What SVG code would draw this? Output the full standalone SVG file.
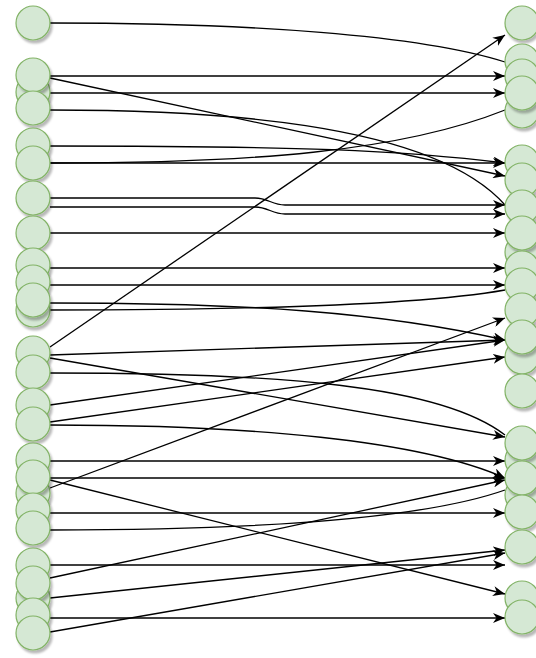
<svg xmlns="http://www.w3.org/2000/svg" width="536" height="658" viewBox="0 0 536 658">
<defs>
<marker id="arr" viewBox="0 0 12 10" refX="12" refY="5" markerWidth="12" markerHeight="10" markerUnits="userSpaceOnUse" orient="auto">
<path d="M0,0 L12,5 L0,10 L3.5,5 Z" fill="#000"/>
</marker>
<filter id="sh" x="-30%" y="-30%" width="170%" height="170%">
<feDropShadow dx="2" dy="3" stdDeviation="1.2" flood-color="#000" flood-opacity="0.28"/>
</filter>
</defs>
<style>
.e{fill:none;stroke:#000;stroke-width:1.3}
.a{marker-end:url(#arr)}
.n{fill:#d5e8d4;stroke:#82b366;stroke-width:1.2;filter:url(#sh)}
</style>
<rect width="536" height="658" fill="#fff"/>
<g id="connectors">
<path class="e" d="M50,23 C250,23 420,35 505,62"/>
<path class="e a" d="M50,76 H505"/>
<path class="e a" d="M50,93 H505"/>
<path class="e a" d="M50,78 L505,176"/>
<path class="e" d="M50,110 C200,110 430,120 505,205"/>
<path class="e a" d="M50,146 C300,146 400,150 505,163"/>
<path class="e a" d="M50,163 H505"/>
<path class="e" d="M50,163 C250,163 400,152 505,110"/>
<path class="e a" d="M50,198 H255 C268,198 272,205 285,205 H505"/>
<path class="e a" d="M50,207 H255 C268,207 272,214 285,214 H505"/>
<path class="e a" d="M50,233 H505"/>
<path class="e a" d="M50,268 H505"/>
<path class="e a" d="M50,285 H505"/>
<path class="e a" d="M50,303 C250,303 380,312 505,340"/>
<path class="e" d="M50,310 C250,310 420,305 505,290"/>
<path class="e a" d="M50,347 L505,35"/>
<path class="e a" d="M50,355 L505,340"/>
<path class="e a" d="M50,358 L505,437"/>
<path class="e" d="M50,373 C280,373 440,385 505,435"/>
<path class="e a" d="M50,405 L505,340"/>
<path class="e a" d="M50,422 L505,357"/>
<path class="e a" d="M50,425 C250,425 420,440 505,478"/>
<path class="e a" d="M50,488 L505,318"/>
<path class="e a" d="M50,461 H505"/>
<path class="e a" d="M50,478 H505"/>
<path class="e a" d="M50,480 L505,594"/>
<path class="e a" d="M50,513 H505"/>
<path class="e" d="M50,530 C250,530 420,520 505,490"/>
<path class="e a" d="M50,565 H505"/>
<path class="e a" d="M50,578 L505,480"/>
<path class="e a" d="M50,598 L505,550"/>
<path class="e a" d="M50,618 H505"/>
<path class="e a" d="M50,632 L505,553"/>
</g>
<g id="left-nodes">
<g id="l1"><circle class="n" cx="33" cy="23" r="17"/></g>
<g id="l3"><circle class="n" cx="33" cy="92" r="17"/></g>
<g id="l2"><circle class="n" cx="33" cy="75" r="17"/></g>
<g id="l4"><circle class="n" cx="33" cy="108" r="17"/></g>
<g id="l5"><circle class="n" cx="33" cy="145" r="17"/></g>
<g id="l6"><circle class="n" cx="33" cy="163" r="17"/></g>
<g id="l7"><circle class="n" cx="33" cy="198" r="17"/></g>
<g id="l8"><circle class="n" cx="33" cy="233" r="17"/></g>
<g id="l9"><circle class="n" cx="33" cy="265" r="17"/></g>
<g id="l10"><circle class="n" cx="33" cy="282" r="17"/></g>
<g id="l12"><circle class="n" cx="33" cy="310" r="17"/></g>
<g id="l11"><circle class="n" cx="33" cy="300" r="17"/></g>
<g id="l13"><circle class="n" cx="33" cy="353" r="17"/></g>
<g id="l14"><circle class="n" cx="33" cy="372" r="17"/></g>
<g id="l15"><circle class="n" cx="33" cy="405" r="17"/></g>
<g id="l16"><circle class="n" cx="33" cy="424" r="17"/></g>
<g id="l17"><circle class="n" cx="33" cy="460" r="17"/></g>
<g id="l19"><circle class="n" cx="33" cy="493" r="17"/></g>
<g id="l18"><circle class="n" cx="33" cy="477" r="17"/></g>
<g id="l20"><circle class="n" cx="33" cy="510" r="17"/></g>
<g id="l21"><circle class="n" cx="33" cy="528" r="17"/></g>
<g id="l22"><circle class="n" cx="33" cy="565" r="17"/></g>
<g id="l24"><circle class="n" cx="33" cy="598" r="17"/></g>
<g id="l23"><circle class="n" cx="33" cy="583" r="17"/></g>
<g id="l25"><circle class="n" cx="33" cy="615" r="17"/></g>
<g id="l26"><circle class="n" cx="33" cy="633" r="17"/></g>
</g>
<g id="right-nodes">
<g id="r1"><circle class="n" cx="522" cy="23" r="17"/></g>
<g id="r5"><circle class="n" cx="522" cy="111" r="17"/></g>
<g id="r2"><circle class="n" cx="522" cy="61" r="17"/></g>
<g id="r3"><circle class="n" cx="522" cy="76" r="17"/></g>
<g id="r4"><circle class="n" cx="522" cy="93" r="17"/></g>
<g id="r6"><circle class="n" cx="522" cy="162" r="17"/></g>
<g id="r7"><circle class="n" cx="522" cy="180" r="17"/></g>
<g id="r8"><circle class="n" cx="522" cy="207" r="17"/></g>
<g id="r10"><circle class="n" cx="522" cy="252" r="17"/></g>
<g id="r9"><circle class="n" cx="522" cy="233" r="17"/></g>
<g id="r11"><circle class="n" cx="522" cy="268" r="17"/></g>
<g id="r12"><circle class="n" cx="522" cy="285" r="17"/></g>
<g id="r13"><circle class="n" cx="522" cy="310" r="17"/></g>
<g id="r15"><circle class="n" cx="522" cy="357" r="17"/></g>
<g id="r14"><circle class="n" cx="522" cy="337" r="17"/></g>
<g id="r16"><circle class="n" cx="522" cy="391" r="17"/></g>
<g id="r18"><circle class="n" cx="522" cy="460" r="17"/></g>
<g id="r17"><circle class="n" cx="522" cy="443" r="17"/></g>
<g id="r20"><circle class="n" cx="522" cy="495" r="17"/></g>
<g id="r19"><circle class="n" cx="522" cy="478" r="17"/></g>
<g id="r21"><circle class="n" cx="522" cy="512" r="17"/></g>
<g id="r22"><circle class="n" cx="522" cy="547" r="17"/></g>
<g id="r23"><circle class="n" cx="522" cy="598" r="17"/></g>
<g id="r24"><circle class="n" cx="522" cy="617" r="17"/></g>
</g>
</svg>
